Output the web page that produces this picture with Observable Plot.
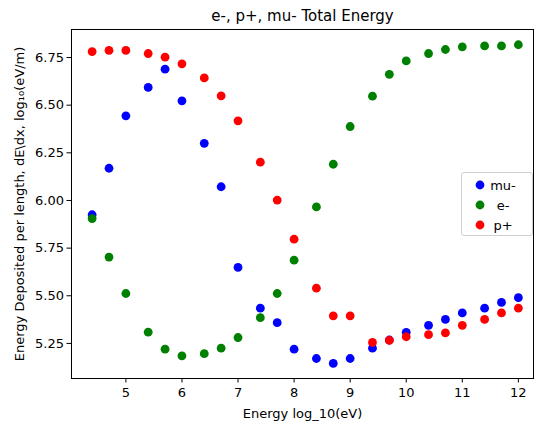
<!DOCTYPE html>
<html><head><meta charset="utf-8">
<script src="https://cdn.jsdelivr.net/npm/d3@7"></script>
<script src="https://cdn.jsdelivr.net/npm/@observablehq/plot@0.6"></script>
<style>body{margin:0;background:#fff} #chart svg{font-family:"DejaVu Sans";}</style>
</head><body><div id="chart"></div>
<script>
const energy = [4.398, 4.699, 5, 5.398, 5.699, 6, 6.398, 6.699, 7, 7.398, 7.699, 8, 8.398, 8.699, 9, 9.398, 9.699, 10, 10.398, 10.699, 11, 11.398, 11.699, 12];
const muMinus = [5.925, 6.169, 6.444, 6.593, 6.689, 6.523, 6.300, 6.072, 5.649, 5.435, 5.359, 5.220, 5.171, 5.145, 5.171, 5.225, 5.268, 5.308, 5.345, 5.376, 5.410, 5.435, 5.465, 5.490];
const eMinus = [5.905, 5.703, 5.512, 5.309, 5.220, 5.185, 5.196, 5.225, 5.281, 5.385, 5.512, 5.687, 5.966, 6.190, 6.388, 6.547, 6.662, 6.732, 6.771, 6.792, 6.806, 6.811, 6.811, 6.817];
const pPlus = [6.781, 6.787, 6.787, 6.771, 6.752, 6.717, 6.643, 6.549, 6.418, 6.201, 6.002, 5.797, 5.540, 5.395, 5.395, 5.255, 5.266, 5.285, 5.296, 5.305, 5.345, 5.376, 5.410, 5.435];
const seriesNames = ["mu-", "e-", "p+"];
const seriesColors = ["#0000ff", "#008000", "#ff0000"];
const xTicks = [5, 6, 7, 8, 9, 10, 11, 12];
const yTicks = [5.25, 5.5, 5.75, 6, 6.25, 6.5, 6.75];
const titleText = "e-, p+, mu- Total Energy";
const xLabel = "Energy log_10(eV)";
const yLabel = "Energy Deposited per length, dE\\dx, log\u2081\u2080(eV/m)";

const rows = [];
[muMinus, eMinus, pPlus].forEach((vals, i) =>
  vals.forEach((v, j) => rows.push({x: energy[j], y: v, s: seriesNames[i]})));

const fs = 13;
const plot = Plot.plot({
  width: 535, height: 423,
  marginLeft: 71, marginRight: 2, marginTop: 29, marginBottom: 45,
  style: {fontFamily: "DejaVu Sans", fontSize: fs + "px", color: "black", background: "white", overflow: "visible"},
  x: {domain: [4.03, 12.27]},
  y: {domain: [5.066, 6.897]},
  color: {domain: seriesNames, range: seriesColors},
  marks: [
    Plot.axisX({ticks: xTicks, tickFormat: d => String(d), tickSize: 4.5, tickPadding: 5, label: null, fontSize: fs, stroke: "black", color: "black"}),
    Plot.axisY({ticks: yTicks, tickFormat: d => d.toFixed(2), tickSize: 4.5, tickPadding: 3, label: null, fontSize: fs, stroke: "black", color: "black"}),
    Plot.dot(rows, {x: "x", y: "y", fill: "s", r: 4.4}),
    Plot.frame({stroke: "black", strokeWidth: 1}),
    Plot.text([titleText], {text: d => d, frameAnchor: "top", dy: -13, lineAnchor: "middle", fontSize: 15, fill: "black"}),
    Plot.text([xLabel], {text: d => d, frameAnchor: "bottom", dy: 35, lineAnchor: "middle", fontSize: fs, fill: "black"}),
    Plot.text([yLabel], {text: d => d, frameAnchor: "left", textAnchor: "middle", dx: -52, rotate: -90, lineAnchor: "middle", fontSize: fs, fill: "black"})
  ]
});
document.getElementById("chart").appendChild(plot);

// legend (matplotlib-style box at center right)
const svg = d3.select(plot);
const lg = svg.append("g").attr("font-family", "DejaVu Sans").attr("font-size", fs);
lg.append("rect").attr("x", 461.5).attr("y", 172.5).attr("width", 71).attr("height", 63)
  .attr("rx", 2.5).attr("fill", "white").attr("fill-opacity", 0.8).attr("stroke", "#d0d0d0");
seriesNames.forEach((name, i) => {
  const cy = 185 + i * 20;
  lg.append("circle").attr("cx", 480).attr("cy", cy).attr("r", 4.4).attr("fill", seriesColors[i]);
  lg.append("text").attr("x", 503).attr("y", cy).attr("dy", "0.35em").attr("fill", "black").text(name);
});
</script>
</body></html>
